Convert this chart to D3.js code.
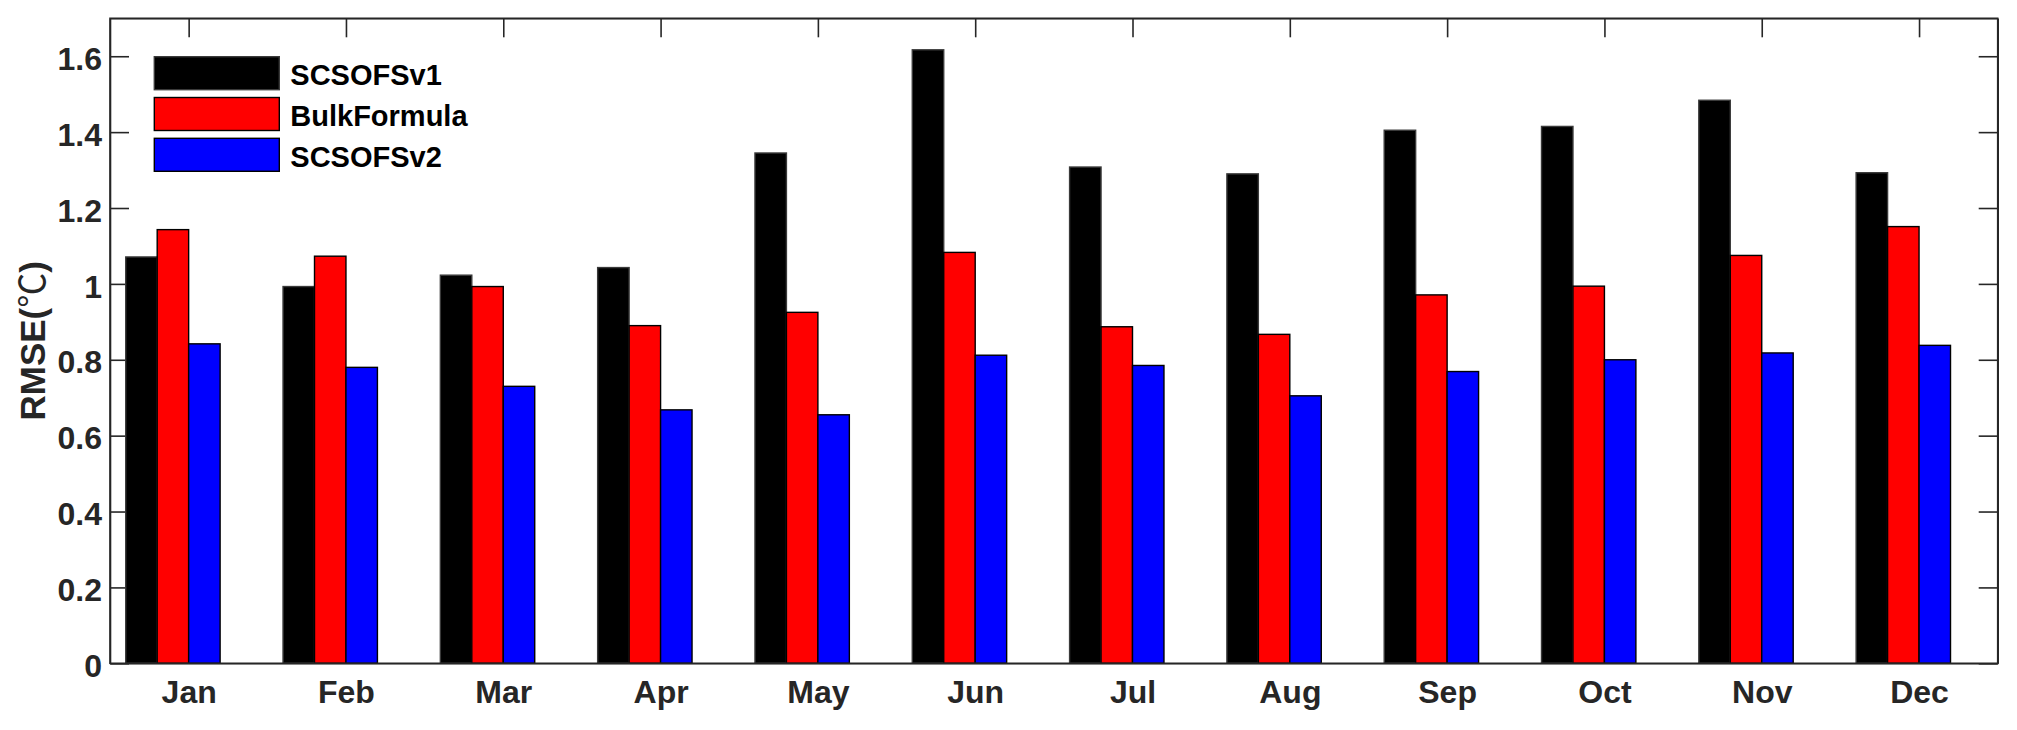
<!DOCTYPE html>
<html>
<head>
<meta charset="utf-8">
<script src="https://cdn.jsdelivr.net/npm/d3@7"></script>
<style>
  html, body { margin: 0; padding: 0; background: #fff; }
  svg text { font-family: "Liberation Sans", Arial, Helvetica, sans-serif; font-weight: bold; }
</style>
</head>
<body>
<svg id="chart" width="2017" height="730"></svg>
<script>
const months = ["Jan","Feb","Mar","Apr","May","Jun","Jul","Aug","Sep","Oct","Nov","Dec"];
const seriesNames = ["SCSOFSv1","BulkFormula","SCSOFSv2"];
const scsofsv1 = [1.071, 0.993, 1.023, 1.043, 1.345, 1.617, 1.308, 1.290, 1.405, 1.415, 1.484, 1.293];
const bulkFormula = [1.143, 1.073, 0.993, 0.890, 0.925, 1.083, 0.887, 0.867, 0.971, 0.994, 1.075, 1.151];
const scsofsv2 = [0.842, 0.780, 0.730, 0.668, 0.655, 0.812, 0.785, 0.705, 0.769, 0.800, 0.818, 0.838];
const yTicks = [0, 0.2, 0.4, 0.6, 0.8, 1, 1.2, 1.4, 1.6];
const colors = ["#000000", "#ff0000", "#0000ff"];

const series = [scsofsv1, bulkFormula, scsofsv2];

const svg = d3.select("#chart");
const L = 110, R = 1997.7, T = 18.3, B = 663.3;
const axisColor = "#262626";

const x = d3.scaleLinear().domain([0.5, 12.5]).range([L, R]);
const y = d3.scaleLinear().domain([0, 1.7]).range([B, T]);
const monthIdx = months.map((m, i) => i + 1);
const barW = 0.2;

// axes (drawn beneath bars)
const gLeft = svg.append("g").attr("transform", `translate(${L},0)`)
  .call(d3.axisLeft(y).tickValues(yTicks).tickFormat(d => d3.format("")(d)).tickSizeInner(-19).tickSizeOuter(0).tickPadding(8));
const gRight = svg.append("g").attr("transform", `translate(${R},0)`)
  .call(d3.axisRight(y).tickValues(yTicks).tickFormat("").tickSizeInner(-19).tickSizeOuter(0));
const gTop = svg.append("g").attr("transform", `translate(0,${T})`)
  .call(d3.axisTop(x).tickValues(monthIdx).tickFormat("").tickSizeInner(-19).tickSizeOuter(0));
const gBottom = svg.append("g").attr("transform", `translate(0,${B})`)
  .call(d3.axisBottom(x).tickValues(monthIdx).tickFormat((d) => months[d - 1]).tickSizeInner(-19).tickSizeOuter(0).tickPadding(17));

[gLeft, gRight, gTop, gBottom].forEach(g => {
  g.selectAll("path.domain").attr("stroke", axisColor).attr("stroke-width", 1.6);
  g.selectAll(".tick line").attr("stroke", axisColor).attr("stroke-width", 1.6);
  g.selectAll("text").attr("fill", axisColor).style("font-size", "32px");
});
gLeft.selectAll("text").attr("dy", "0.41em");

// bars
series.forEach((vals, si) => {
  svg.append("g").selectAll("rect").data(vals).join("rect")
    .attr("x", (d, i) => x(monthIdx[i] + (si - 2) * barW))
    .attr("width", (d, i) => x(monthIdx[i] + (si - 1) * barW) - x(monthIdx[i] + (si - 2) * barW))
    .attr("y", d => y(d))
    .attr("height", d => B - y(d))
    .attr("fill", colors[si])
    .attr("stroke", si === 0 ? "#3a3a3a" : "#000")
    .attr("stroke-width", 1.4);
});

// frame on top
svg.append("rect").attr("x", L).attr("y", T).attr("width", R - L).attr("height", B - T)
  .attr("fill", "none").attr("stroke", axisColor).attr("stroke-width", 1.6);

// y-axis title
const yTitle = svg.append("text")
  .attr("transform", `translate(45,${(T + B) / 2}) rotate(-90)`)
  .attr("text-anchor", "middle")
  .attr("fill", axisColor)
  .style("font-size", "35px");
yTitle.append("tspan").text("RMSE(");
yTitle.append("tspan").style("font-family", "'Noto Sans CJK SC', sans-serif").style("font-weight", "normal").text("℃");
yTitle.append("tspan").text(")");

// legend
const leg = svg.append("g");
const legX = 154.3, legY0 = 56.7, legRow = 40.8, boxW = 125, boxH = 33;
seriesNames.forEach((name, i) => {
  const yy = legY0 + i * legRow;
  leg.append("rect").attr("x", legX).attr("y", yy).attr("width", boxW).attr("height", boxH)
    .attr("fill", colors[i]).attr("stroke", i === 0 ? "#3a3a3a" : "#000").attr("stroke-width", 1.4);
  leg.append("text").attr("x", legX + boxW + 11).attr("y", yy + boxH / 2 + 12)
    .attr("fill", "#000").style("font-size", "29px").text(name);
});
</script>
</body>
</html>
